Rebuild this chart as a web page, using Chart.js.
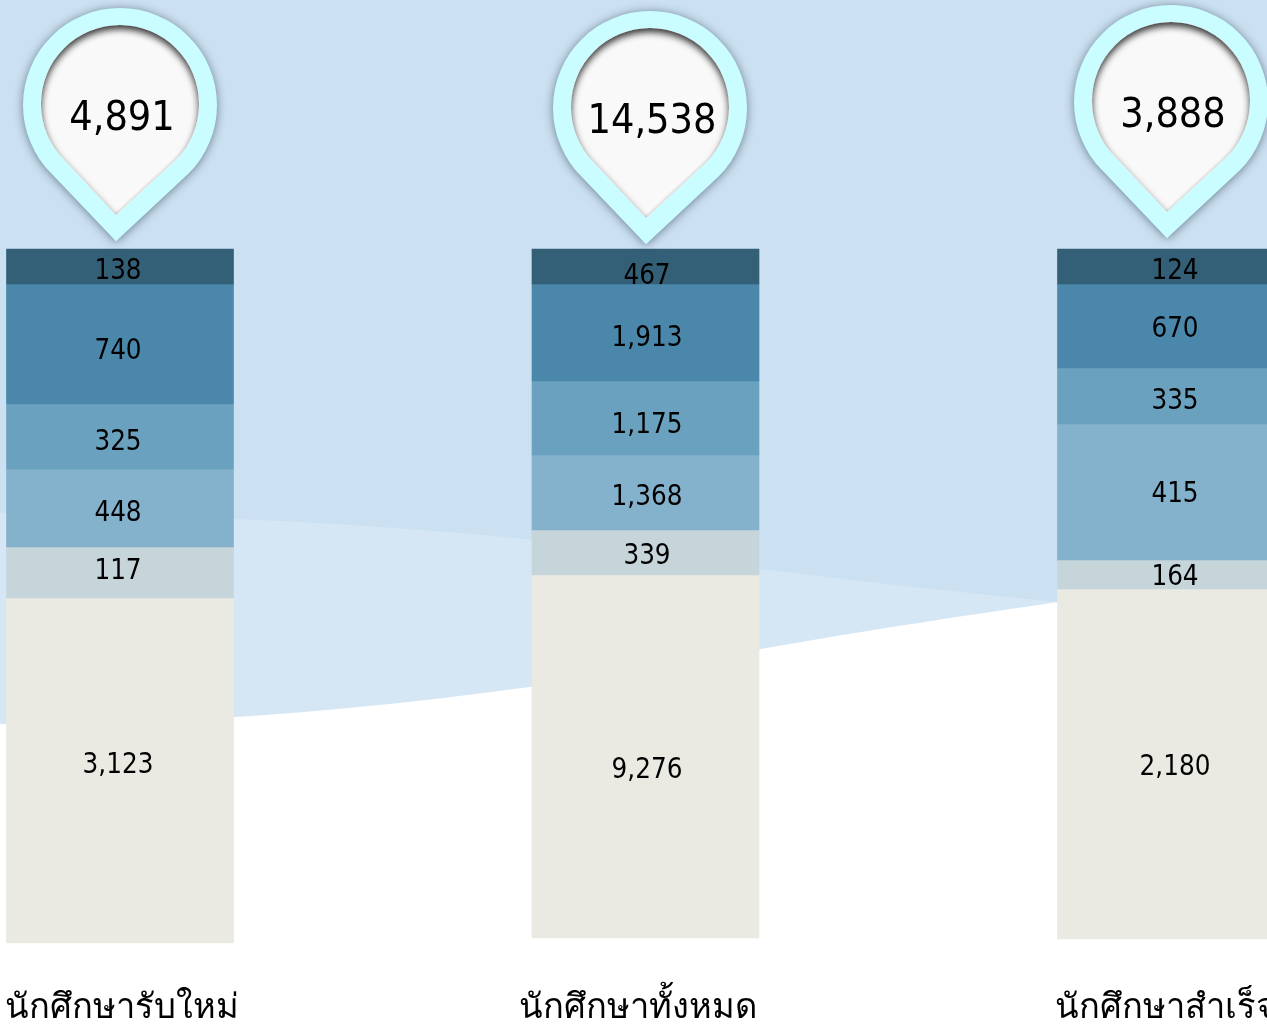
<!DOCTYPE html>
<html><head><meta charset="utf-8">
<style>html,body{margin:0;padding:0;background:#fff;overflow:hidden}canvas{display:block}</style>
<script src="https://cdn.jsdelivr.net/npm/chart.js@4"></script></head>
<body><canvas id="c" width="1267" height="1025" style="width:1267px;height:1025px"></canvas>
<script>
const categories = ['นักศึกษารับใหม่','นักศึกษาทั้งหมด','นักศึกษาสำเร็จ'];
const totals = [4891, 14538, 3888];
// Printed figures, top segment first
const printedTop = [138, 467, 124];
const printedB = [740, 1913, 670];
const printedC = [325, 1175, 335];
const printedD = [448, 1368, 415];
const printedE = [117, 339, 164];
const printedBottom = [3123, 9276, 2180];
// Segment heights as they appear in the picture (the picture is not drawn to scale)
const heightTop = [35, 35, 35];
const heightB = [120, 97, 84];
const heightC = [65, 74, 56];
const heightD = [78, 75, 136];
const heightE = [51, 45, 29];
const heightBottom = [345, 363, 350];
const colours = ['#335F77','#4A87AB','#6AA1BF','#84B1CB','#C6D5DA','#EAEAE3'];
const heights = [heightTop,heightB,heightC,heightD,heightE,heightBottom];
const printed = [printedTop,printedB,printedC,printedD,printedE,printedBottom];
const FONT = '"DejaVu Sans Condensed","DejaVu Sans",sans-serif';
const fmt = n => n.toLocaleString('en-US');

const backdrop = {id:'backdrop',beforeDraw(ch){
  const c=ch.ctx,W=ch.width;
  c.save();
  c.fillStyle='#fff';c.fillRect(0,0,W,ch.height);
  c.fillStyle='#D5E7F5';
  c.beginPath();c.moveTo(0,0);c.lineTo(W,0);c.lineTo(W,570);c.lineTo(1058,602);
  c.bezierCurveTo(970,615,880,628,755,650);c.bezierCurveTo(520,695,250,726,0,724);c.closePath();c.fill();
  c.fillStyle='#CBE0F1';
  c.beginPath();c.moveTo(0,0);c.lineTo(W,0);c.lineTo(W,570);c.lineTo(1058,602);
  c.bezierCurveTo(960,592,860,582,755,568);c.bezierCurveTo(520,531,260,515,0,513);c.closePath();c.fill();
  c.restore();
}};
function pinOutline(c,cx,cy,r){
  c.moveTo(cx+r*Math.cos(Math.PI*0.75),cy+r*Math.sin(Math.PI*0.75));
  c.arc(cx,cy,r,Math.PI*0.75,Math.PI*0.25,false);
  c.lineTo(cx-4,cy+r*1.405);c.closePath();
}
function pinPath(c,cx,cy,r){c.beginPath();pinOutline(c,cx,cy,r);}
const pins = {id:'pins',afterDatasetsDraw(ch){
  const c=ch.ctx;
  const pinTop=[8,11,5], pinX=[120,650,1171];
  totals.forEach((t,i)=>{
    const cx=pinX[i],cy=pinTop[i]+97,r=79,ix=cx,iy=cy-1;
    c.save();
    c.shadowColor='rgba(40,60,80,.6)';c.shadowBlur=10;c.shadowOffsetY=1;
    c.fillStyle='#C9FDFF';pinPath(c,cx,cy,97);c.fill();
    c.restore();
    c.save();
    pinPath(c,ix,iy,r);c.clip();
    c.fillStyle='#F9F9F9';c.fillRect(ix-r-5,iy-r-5,2*r+10,2.5*r+10);
    const ring=(colour,dx,dy,blur)=>{
      c.save();c.shadowColor=colour;c.shadowBlur=blur;c.shadowOffsetX=dx;c.shadowOffsetY=dy;
      c.fillStyle='#F9F9F9';c.beginPath();
      c.rect(ix-300,iy-300,600,600);
      pinOutline(c,ix,iy,r);
      c.fill('evenodd');c.restore();
    };
    ring('rgba(255,255,255,1)',-3,-4,3);
    ring('rgba(0,0,0,.8)',0,4,7);
    c.restore();
    c.save();
    c.fillStyle='#000';c.font='41px '+FONT;c.textAlign='center';c.textBaseline='middle';
    c.fillText(fmt(t),cx+2,cy+14);
    c.restore();
  });
}};
const figures = {id:'figures',afterDatasetsDraw(ch){
  const c=ch.ctx;
  const columnNudge=[-2,1.5,4];
  const rowNudge=[[2.5,7.5,2.5],[5,3.5,1],[3.5,5,3],[3,2.5,0],[-3.5,1.5,0.5],[-7.5,11.5,1]];
  c.save();c.fillStyle='#000';c.font='27.5px '+FONT;c.textAlign='center';c.textBaseline='middle';
  ch.data.datasets.forEach((d,k)=>{
    ch.getDatasetMeta(k).data.forEach((b,i)=>{
      const mid=(b.base+b.y)/2;
      c.fillText(fmt(printed[k][i]),b.x+columnNudge[i],mid+rowNudge[k][i]+2.5);
    });
  });
  c.restore();
}};
const axisLabels = {id:'axisLabels',afterDatasetsDraw(ch){
  const c=ch.ctx,x=ch.scales.x,labelNudge=[2,-8,-6];
  c.save();c.fillStyle='#000';c.font='34.5px "Noto Sans","DejaVu Sans",sans-serif';c.textAlign='center';c.textBaseline='alphabetic';
  categories.forEach((t,i)=>c.fillText(t,x.getPixelForTick(i)+labelNudge[i],1018));
  c.restore();
}};
new Chart(document.getElementById('c'),{
  type:'bar',
  data:{labels:categories,datasets:heights.map((h,k)=>({data:h,backgroundColor:colours[k],borderWidth:0,barThickness:227,clip:false}))},
  plugins:[backdrop,axisLabels,figures,pins],
  options:{
    responsive:false,animation:false,
    layout:{padding:{left:120,right:96,top:249,bottom:0}},
    plugins:{legend:{display:false},tooltip:{enabled:false}},
    scales:{
      x:{stacked:true,offset:false,grid:{display:false},border:{display:false},
         afterFit(s){s.height=82;s.paddingLeft=0;s.paddingRight=0;},
         ticks:{display:false,autoSkip:false}},
      y:{stacked:true,reverse:true,min:0,max:694,display:false}
    }
  }
});
</script></body></html>
